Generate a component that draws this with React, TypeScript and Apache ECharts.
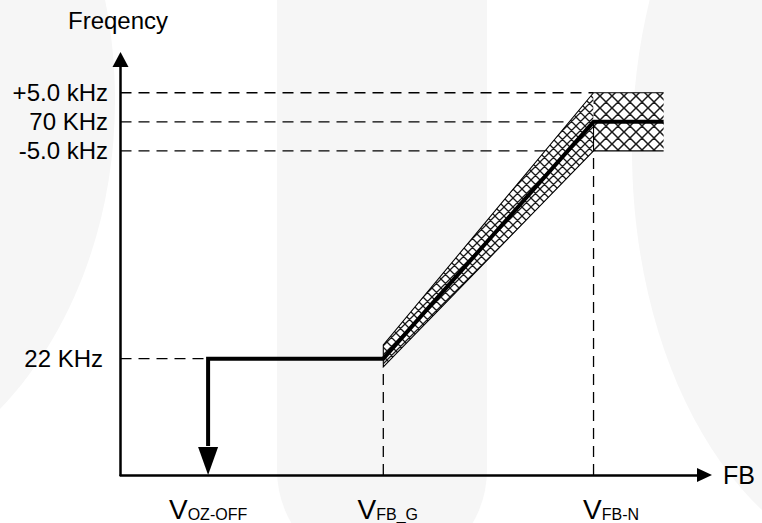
import React, { useEffect, useRef } from 'react';
import * as echarts from 'echarts';

const FONT = '"Liberation Sans", Arial, Helvetica, sans-serif';

// x positions (schematic units, axis 0..100)
const xTickValues = [15, 45, 81];
const xTickMain = ['V', 'V', 'V'];
const xTickSub = ['OZ-OFF', 'FB_G', 'FB-N'];
const xTickShift = [0, 9, 35];

// y positions (schematic units, axis 0..100)
const yTickValues = [28, 78, 85, 92];
const yTickLabels = ['22 KHz', '-5.0 kHz', '70 KHz', '+5.0 kHz'];

// frequency curve (with the drop to the axis at V_OZ-OFF)
const freqCurve = [[15, 7], [15, 28], [45, 28], [81, 85], [93, 85]];
const dropArrowTip = [[15, 0]];

// tolerance band
const bandUpper = [[45, 31.3], [81, 92], [93, 92]];
const bandLower = [[45, 26], [81, 78], [93, 78]];
const bandSeam = [[81, 78], [81, 85]];

// dashed guides
const hGuides = [
  [[0, 92], [81, 92]],
  [[0, 85], [81, 85]],
  [[0, 78], [81, 78]],
  [[0, 28], [15, 28]],
];
const vGuides = [
  [[45, 0], [45, 26]],
  [[81, 0], [81, 78]],
];

function hatch(t: number, w: number): string {
  const h = t / 2;
  const d = `M${-h},${-h}L${t + h},${t + h}M${-h},${t + h}L${t + h},${-h}` +
    `M${h},${-h}L${t + h},${h}M${-h},${h}L${h},${t + h}` +
    `M${-h},${h}L${h},${-h}M${h},${t + h}L${t + h},${h}`;
  const svg = `<svg xmlns='http://www.w3.org/2000/svg' width='${t}' height='${t}'><rect width='${t}' height='${t}' fill='#ffffff'/><path d='${d}' stroke='#1a1a1a' stroke-width='${w}' fill='none'/></svg>`;
  return 'data:image/svg+xml;charset=utf-8,' + encodeURIComponent(svg);
}

export default function App() {
  const ref = useRef<HTMLDivElement>(null);
  useEffect(() => {
    if (!ref.current) return;
    const chart = echarts.init(ref.current, null, { renderer: 'svg' });
    const fineFill = { image: hatch(9, 1.3), repeat: 'repeat', imageWidth: 9, imageHeight: 9 };
    const coarseFill = { image: hatch(12, 1.5), repeat: 'repeat', imageWidth: 12, imageHeight: 12 };

    const xRich: any = {
      v: { fontSize: 28, fontFamily: FONT, color: '#000', lineHeight: 32 },
      s: { fontSize: 16, fontFamily: FONT, color: '#000', lineHeight: 32, padding: [10, 0, 0, 0] },
    };
    xTickShift.forEach((w, i) => {
      xRich['g' + i] = { width: w, lineHeight: 32, fontSize: 10 };
    });

    const guideStyle = { color: '#000', width: 1.3, type: [11, 7] as any };
    const guideSeries = [...hGuides, ...vGuides].map((seg) => ({
      type: 'line',
      data: seg,
      symbol: 'none',
      silent: true,
      z: 2,
      lineStyle: guideStyle,
    }));

    chart.setOption({
      animation: false,
      backgroundColor: '#ffffff',
      graphic: {
        elements: [
          { type: 'ellipse', z: -1, silent: true, shape: { cx: -200, cy: 100, rx: 315, ry: 400 }, style: { fill: '#f6f6f6' } },
          { type: 'rect', z: -1, silent: true, shape: { x: 277, y: -10, width: 210, height: 585, r: [0, 0, 105, 105] }, style: { fill: '#f6f6f6' } },
          { type: 'ellipse', z: -1, silent: true, shape: { cx: 900, cy: 150, rx: 268, ry: 420 }, style: { fill: '#f6f6f6' } },
        ],
      },
      grid: { left: 120.5, right: 57.5, top: 59.5, bottom: 48, containLabel: false, outerBoundsMode: 'none' },
      xAxis: {
        type: 'value', min: 0, max: 100, z: 10,
        axisLine: { show: true, onZero: false, symbol: ['none', 'triangle'], symbolSize: [14, 15], lineStyle: { color: '#000', width: 2.5 } },
        axisTick: { show: false },
        splitLine: { show: false },
        axisLabel: {
          customValues: xTickValues,
          margin: 18,
          formatter: (val: number) => {
            const i = xTickValues.indexOf(val);
            if (i < 0) return '';
            const gap = xTickShift[i] > 0 ? `{g${i}| }` : '';
            return `${gap}{v|${xTickMain[i]}}{s|${xTickSub[i]}}`;
          },
          rich: xRich,
        },
        name: 'FB', nameLocation: 'end', nameGap: 18.5,
        nameTextStyle: { fontSize: 25, color: '#000', fontFamily: FONT, align: 'left', verticalAlign: 'middle' },
      },
      yAxis: {
        type: 'value', min: 0, max: 100, z: 10,
        axisLine: { show: true, onZero: false, symbol: ['none', 'triangle'], symbolSize: [16, 15], lineStyle: { color: '#000', width: 2.5 } },
        axisTick: { show: false },
        splitLine: { show: false },
        axisLabel: {
          customValues: yTickValues,
          margin: 12.5,
          formatter: (val: number) => {
            const i = yTickValues.indexOf(val);
            if (i < 0) return '';
            return i === 0 ? `{a|${yTickLabels[i]}}{g| }` : `{a|${yTickLabels[i]}}`;
          },
          rich: {
            a: { fontSize: 24, fontFamily: FONT, color: '#000' },
            g: { width: 5, fontSize: 10 },
          },
        },
        name: 'Freqency', nameLocation: 'end', nameGap: 39.5,
        nameTextStyle: { fontSize: 24, color: '#000', fontFamily: FONT, align: 'center', verticalAlign: 'middle', padding: [0, 5, 0, 0] },
      },
      series: [
        ...guideSeries,
        {
          type: 'custom',
          coordinateSystem: 'cartesian2d',
          z: 3,
          silent: true,
          data: [[0, 0]],
          renderItem: (_params: any, api: any) => {
            const up = bandUpper.map((p) => api.coord(p));
            const lo = bandLower.map((p) => api.coord(p));
            const s0 = api.coord(bandSeam[0]);
            const s1 = api.coord(bandSeam[1]);
            return {
              type: 'group',
              children: [
                { type: 'polygon', shape: { points: [up[0], up[1], lo[1], lo[0]] }, style: { fill: fineFill, stroke: null } },
                { type: 'polygon', shape: { points: [up[1], up[2], lo[2], lo[1]] }, style: { fill: coarseFill, stroke: null } },
                { type: 'polyline', shape: { points: [up[2], up[1], up[0], lo[0], lo[1], lo[2]] }, style: { stroke: '#000', lineWidth: 1.1, fill: null } },
                { type: 'line', shape: { x1: s0[0], y1: s0[1], x2: s1[0], y2: s1[1] }, style: { stroke: '#000', lineWidth: 1.1 } },
              ],
            };
          },
        },
        {
          type: 'line',
          data: freqCurve,
          symbol: 'none',
          silent: true,
          z: 4,
          lineStyle: { color: '#000', width: 4, join: 'miter' },
        },
        {
          type: 'scatter',
          data: dropArrowTip,
          symbol: 'path://M0,0L20,0L10,28Z',
          symbolSize: [20, 28],
          symbolOffset: [0, '-50%'],
          silent: true,
          z: 5,
          itemStyle: { color: '#000', opacity: 1 },
        },
      ],
    });
    return () => chart.dispose();
  }, []);
  return <div ref={ref} style={{ position: 'fixed', left: 0, top: 0, width: 762, height: 523, background: '#fff' }} />;
}
